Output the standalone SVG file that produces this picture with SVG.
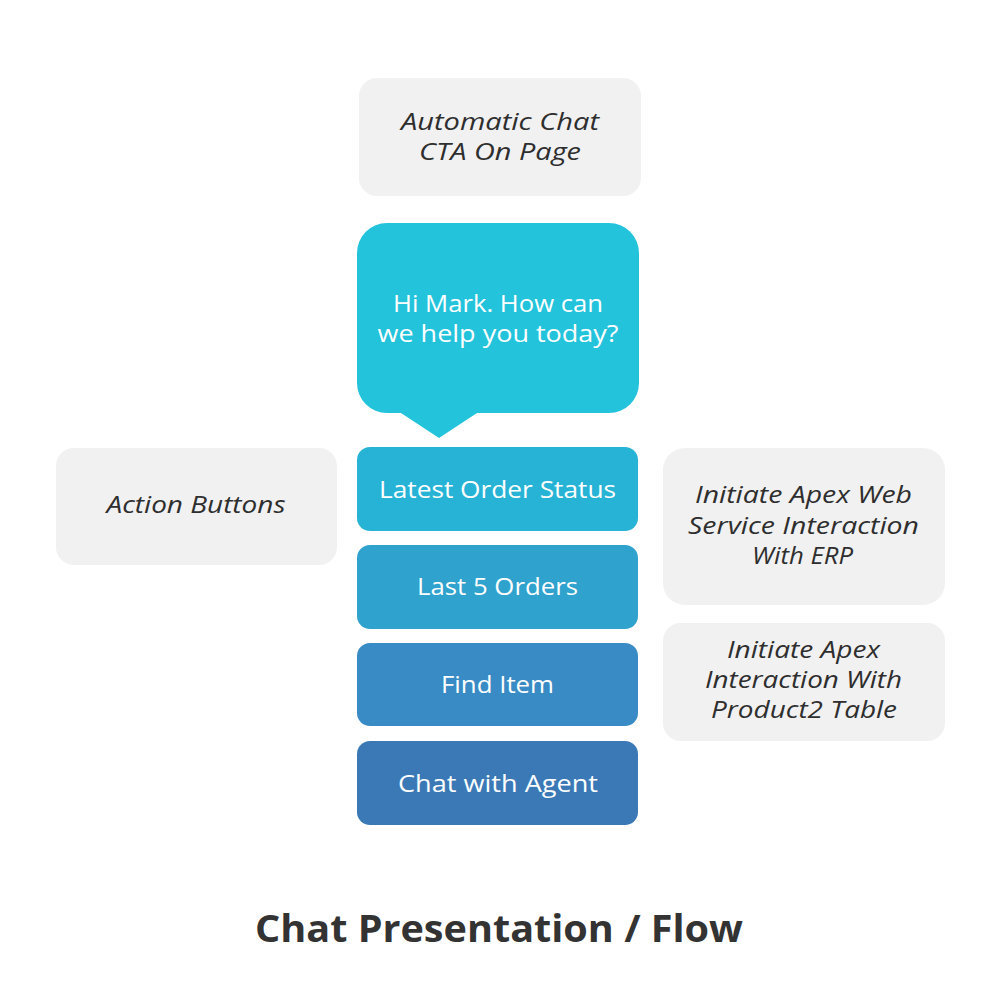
<svg xmlns="http://www.w3.org/2000/svg" width="1000" height="1000" viewBox="0 0 1000 1000">
<style>
.note{fill:#f1f1f1}
.nt{font-family:"Open Sans","Liberation Sans",sans-serif;font-style:italic;font-size:24px;fill:#2e2e2e;text-anchor:middle}
.bt{font-family:"Open Sans","Liberation Sans",sans-serif;font-size:24px;fill:#ffffff;text-anchor:middle}
.title{font-family:"Open Sans","Liberation Sans",sans-serif;font-weight:bold;font-size:38px;fill:#333333;text-anchor:middle}
</style>
<rect width="1000" height="1000" fill="#ffffff"/>
<g id="cta">
<rect class="note" x="359" y="78" width="282" height="118" rx="18"/>
<text class="nt" x="500" y="130" textLength="198" lengthAdjust="spacingAndGlyphs">Automatic Chat</text>
<text class="nt" x="500" y="160" textLength="162" lengthAdjust="spacingAndGlyphs">CTA On Page</text>
</g>
<g id="bubble">
<path d="M387 223 H609 A30 30 0 0 1 639 253 V383 A30 30 0 0 1 609 413 H477 L439 438 L401 413 H387 A30 30 0 0 1 357 383 V253 A30 30 0 0 1 387 223 Z" fill="#23c3dc"/>
<text class="bt" x="498" y="312" textLength="210" lengthAdjust="spacingAndGlyphs">Hi Mark. How can</text>
<text class="bt" x="498" y="342" textLength="241" lengthAdjust="spacingAndGlyphs">we help you today?</text>
</g>
<g id="latest">
<rect x="357" y="447" width="281" height="84" rx="13" fill="#27b3d6"/>
<text class="bt" x="497.5" y="498" textLength="237" lengthAdjust="spacingAndGlyphs">Latest Order Status</text>
</g>
<g id="last5">
<rect x="357" y="545" width="281" height="84" rx="13" fill="#2fa2cd"/>
<text class="bt" x="497.5" y="595" textLength="161" lengthAdjust="spacingAndGlyphs">Last 5 Orders</text>
</g>
<g id="find">
<rect x="357" y="643" width="281" height="83" rx="13" fill="#388bc4"/>
<text class="bt" x="497.5" y="693" textLength="113" lengthAdjust="spacingAndGlyphs">Find Item</text>
</g>
<g id="agent">
<rect x="357" y="741" width="281" height="84" rx="13" fill="#3a79b6"/>
<text class="bt" x="498" y="792" textLength="200" lengthAdjust="spacingAndGlyphs">Chat with Agent</text>
</g>
<g id="action">
<rect class="note" x="56" y="448" width="281" height="117" rx="18"/>
<text class="nt" x="196" y="513" textLength="179" lengthAdjust="spacingAndGlyphs">Action Buttons</text>
</g>
<g id="erp">
<rect class="note" x="663" y="448" width="282" height="157" rx="22"/>
<text class="nt" x="803.5" y="503" textLength="217" lengthAdjust="spacingAndGlyphs">Initiate Apex Web</text>
<text class="nt" x="803.5" y="534" textLength="231" lengthAdjust="spacingAndGlyphs">Service Interaction</text>
<text class="nt" x="802.5" y="564" textLength="101" lengthAdjust="spacingAndGlyphs">With ERP</text>
</g>
<g id="product2">
<rect class="note" x="663" y="623" width="282" height="118" rx="18"/>
<text class="nt" style="font-size:23px" x="803.5" y="658" textLength="153" lengthAdjust="spacingAndGlyphs">Initiate Apex</text>
<text class="nt" style="font-size:23px" x="803.5" y="688" textLength="197" lengthAdjust="spacingAndGlyphs">Interaction With</text>
<text class="nt" style="font-size:23px" x="804" y="718" textLength="186" lengthAdjust="spacingAndGlyphs">Product2 Table</text>
</g>
<g id="connectors"></g>
<text class="title" x="499" y="942" textLength="488" lengthAdjust="spacingAndGlyphs">Chat Presentation / Flow</text>
</svg>
